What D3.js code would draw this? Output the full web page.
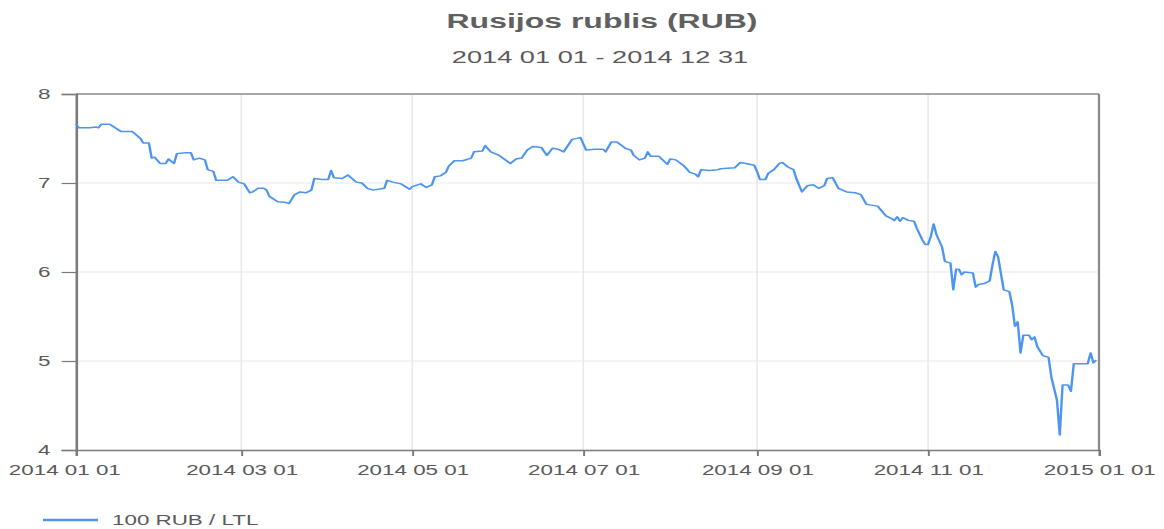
<!DOCTYPE html>
<html>
<head>
<meta charset="utf-8">
<script src="https://cdn.jsdelivr.net/npm/d3@7"></script>
<style>
  html, body { margin: 0; padding: 0; background: #fff; }
  svg { display: block; }
  text { font-family: "Liberation Sans", Arial, sans-serif; }
</style>
</head>
<body>
<svg id="chart" width="1164" height="529"></svg>
<script>
const title = "Rusijos rublis (RUB)";
const subtitle = "2014 01 01 - 2014 12 31";
const seriesName = "100 RUB / LTL";

const dates = [
"2014-01-01","2014-01-02","2014-01-06","2014-01-08","2014-01-09","2014-01-10","2014-01-13","2014-01-16","2014-01-17","2014-01-21",
"2014-01-24","2014-01-25","2014-01-27","2014-01-28","2014-01-29","2014-01-31","2014-02-02","2014-02-03","2014-02-05","2014-02-06",
"2014-02-09","2014-02-11","2014-02-12","2014-02-14","2014-02-16","2014-02-17","2014-02-19","2014-02-20","2014-02-24","2014-02-26",
"2014-02-28","2014-03-02","2014-03-04","2014-03-05","2014-03-07","2014-03-09","2014-03-10","2014-03-11","2014-03-14","2014-03-17",
"2014-03-18","2014-03-20","2014-03-22","2014-03-24","2014-03-26","2014-03-27","2014-03-30","2014-04-01","2014-04-02","2014-04-03",
"2014-04-06","2014-04-08","2014-04-11","2014-04-13","2014-04-15","2014-04-17","2014-04-21","2014-04-22","2014-04-24","2014-04-27",
"2014-04-30","2014-05-01","2014-05-04","2014-05-06","2014-05-08","2014-05-09","2014-05-11","2014-05-13","2014-05-14","2014-05-16",
"2014-05-19","2014-05-22","2014-05-23","2014-05-26","2014-05-27","2014-05-29","2014-06-01","2014-06-05","2014-06-07","2014-06-09",
"2014-06-11","2014-06-13","2014-06-16","2014-06-18","2014-06-20","2014-06-22","2014-06-24","2014-06-27","2014-06-30","2014-07-02",
"2014-07-05","2014-07-08","2014-07-09","2014-07-11","2014-07-13","2014-07-16","2014-07-18","2014-07-19","2014-07-21","2014-07-23",
"2014-07-24","2014-07-25","2014-07-28","2014-07-31","2014-08-01","2014-08-03","2014-08-06","2014-08-08","2014-08-10","2014-08-11",
"2014-08-12","2014-08-15","2014-08-18","2014-08-19","2014-08-24","2014-08-26","2014-08-28","2014-08-31","2014-09-01","2014-09-02",
"2014-09-04","2014-09-05","2014-09-07","2014-09-09","2014-09-10","2014-09-12","2014-09-14","2014-09-15","2014-09-17","2014-09-19",
"2014-09-21","2014-09-23","2014-09-25","2014-09-26","2014-09-28","2014-09-30","2014-10-03","2014-10-06","2014-10-08","2014-10-10",
"2014-10-14","2014-10-17","2014-10-19","2014-10-20","2014-10-21","2014-10-22","2014-10-23","2014-10-25","2014-10-27","2014-10-28",
"2014-10-30","2014-10-31","2014-11-01","2014-11-02","2014-11-03","2014-11-04","2014-11-06","2014-11-07","2014-11-09","2014-11-10",
"2014-11-11","2014-11-12","2014-11-13","2014-11-14","2014-11-17","2014-11-18","2014-11-19","2014-11-21","2014-11-23","2014-11-24",
"2014-11-25","2014-11-26","2014-11-28","2014-11-30","2014-12-01","2014-12-02","2014-12-03","2014-12-04","2014-12-05","2014-12-07",
"2014-12-08","2014-12-09","2014-12-10","2014-12-12","2014-12-14","2014-12-15","2014-12-17","2014-12-18","2014-12-19","2014-12-21",
"2014-12-22","2014-12-23","2014-12-28","2014-12-29","2014-12-30","2014-12-31"
];

const values = [
7.66,7.62,7.62,7.63,7.62,7.66,7.66,7.60,7.58,7.58,
7.50,7.45,7.45,7.28,7.29,7.22,7.22,7.27,7.22,7.33,
7.34,7.34,7.26,7.28,7.26,7.15,7.13,7.03,7.03,7.07,
7.01,6.99,6.89,6.90,6.94,6.94,6.92,6.85,6.79,6.78,
6.77,6.87,6.90,6.89,6.92,7.05,7.04,7.04,7.14,7.06,
7.05,7.09,7.01,7.00,6.94,6.92,6.94,7.03,7.01,6.99,
6.93,6.96,6.99,6.95,6.98,7.07,7.08,7.12,7.19,7.25,
7.25,7.28,7.35,7.36,7.42,7.35,7.31,7.22,7.27,7.28,
7.37,7.41,7.40,7.31,7.39,7.38,7.35,7.49,7.51,7.37,
7.38,7.38,7.35,7.46,7.46,7.39,7.37,7.31,7.26,7.28,
7.35,7.30,7.30,7.21,7.27,7.26,7.19,7.12,7.10,7.07,
7.15,7.14,7.15,7.16,7.17,7.23,7.22,7.20,7.13,7.04,
7.04,7.11,7.15,7.22,7.23,7.18,7.15,7.05,6.90,6.97,
6.98,6.94,6.97,7.05,7.06,6.94,6.90,6.89,6.87,6.76,
6.74,6.63,6.60,6.58,6.62,6.57,6.61,6.58,6.57,6.49,
6.36,6.31,6.31,6.40,6.54,6.42,6.28,6.12,6.10,5.80,
6.03,6.03,5.97,6.00,5.99,5.83,5.86,5.87,5.90,6.08,
6.23,6.17,5.80,5.78,5.63,5.39,5.44,5.09,5.29,5.29,
5.24,5.27,5.16,5.06,5.04,4.82,4.56,4.17,4.73,4.73,
4.66,4.97,4.97,5.09,4.98,5.01
];

const yTicks = [4, 5, 6, 7, 8];
const xTickDates = ["2014-01-01","2014-03-01","2014-05-01","2014-07-01","2014-09-01","2014-11-01","2015-01-01"];
const xTickLabels = ["2014 01 01","2014 03 01","2014 05 01","2014 07 01","2014 09 01","2014 11 01","2015 01 01"];

// The reference is horizontally stretched; draw in a narrower space and stretch.
const SX = 1.6;
const W = 1164 / SX, H = 529;
const svg = d3.select("#chart")
  .attr("viewBox", `0 0 ${W} ${H}`)
  .attr("preserveAspectRatio", "none");

const parse = d3.utcParse("%Y-%m-%d");
const data = dates.map((d, i) => ({ date: parse(d), value: values[i] }));

const pLeft = 76 / SX, pRight = 1099 / SX, pTop = 94, pBottom = 450;

const x = d3.scaleUtc()
  .domain([parse("2014-01-01"), parse("2015-01-01")])
  .range([pLeft, pRight]);
const y = d3.scaleLinear().domain([4, 8]).range([pBottom, pTop]);

const textColor = "#5a5a5a";

// grid
const g = svg.append("g");
g.selectAll("line.hg").data(yTicks.filter(t => t > 4 && t < 8)).join("line")
  .attr("x1", pLeft).attr("x2", pRight)
  .attr("y1", d => y(d)).attr("y2", d => y(d))
  .attr("stroke", "#e9e9e9").attr("stroke-width", 1);
g.selectAll("line.vg").data(xTickDates.slice(1, -1).map(parse)).join("line")
  .attr("x1", d => x(d)).attr("x2", d => x(d))
  .attr("y1", pTop).attr("y2", pBottom)
  .attr("stroke", "#e9e9e9").attr("stroke-width", 1);

// frame top & right
svg.append("line").attr("x1", pLeft).attr("x2", pRight).attr("y1", pTop).attr("y2", pTop)
  .attr("stroke", "#8a8a8a").attr("stroke-width", 1.6);
svg.append("line").attr("x1", pRight).attr("x2", pRight).attr("y1", pTop).attr("y2", pBottom)
  .attr("stroke", "#8a8a8a").attr("stroke-width", 1.4);

// axes
const xAxis = d3.axisBottom(x)
  .tickValues(xTickDates.map(parse))
  .tickFormat((d, i) => xTickLabels[i])
  .tickSizeOuter(0).tickSize(6).tickPadding(6);
const gx = svg.append("g").attr("transform", `translate(0,${pBottom})`).call(xAxis);
gx.select(".domain").attr("stroke", "#7a7a7a").attr("stroke-width", 1.5);
gx.selectAll(".tick line").attr("stroke", "#7a7a7a").attr("stroke-width", 1.2);
gx.selectAll(".tick text").attr("fill", textColor)
  .style("font-size", "14px").attr("dy", "0.95em");
// first label is pushed inside the page, as in the reference
gx.selectAll(".tick text").filter((d, i) => i === 0)
  .attr("text-anchor", "start").attr("x", 8 / SX - pLeft);

const yAxis = d3.axisLeft(y).tickValues(yTicks).tickFormat(d3.format("d"))
  .tickSizeOuter(0).tickSize(9).tickPadding(7);
const gy = svg.append("g").attr("transform", `translate(${pLeft},0)`).call(yAxis);
gy.select(".domain").attr("stroke", "#7a7a7a").attr("stroke-width", 1.6);
gy.selectAll(".tick line").attr("stroke", "#7a7a7a").attr("stroke-width", 1.2);
gy.selectAll(".tick text").attr("fill", textColor).style("font-size", "14px");

// line
const line = d3.line().x(d => x(d.date)).y(d => y(d.value));
svg.append("path").datum(data)
  .attr("fill", "none").attr("stroke", "#4d95ef")
  .attr("stroke-width", 1.5).attr("stroke-linejoin", "round")
  .attr("d", line);

// titles
svg.append("text").attr("x", 602 / SX).attr("y", 28)
  .attr("text-anchor", "middle").attr("fill", "#606060")
  .style("font-size", "20px").style("font-weight", "bold").text(title);
svg.append("text").attr("x", 600 / SX).attr("y", 63)
  .attr("text-anchor", "middle").attr("fill", textColor)
  .style("font-size", "17px").text(subtitle);

// legend
svg.append("line").attr("x1", 43 / SX).attr("x2", 98 / SX).attr("y1", 520).attr("y2", 520)
  .attr("stroke", "#4d95ef").attr("stroke-width", 2.5);
svg.append("text").attr("x", 112 / SX).attr("y", 525)
  .attr("fill", textColor).style("font-size", "14px").text(seriesName);
</script>
</body>
</html>
